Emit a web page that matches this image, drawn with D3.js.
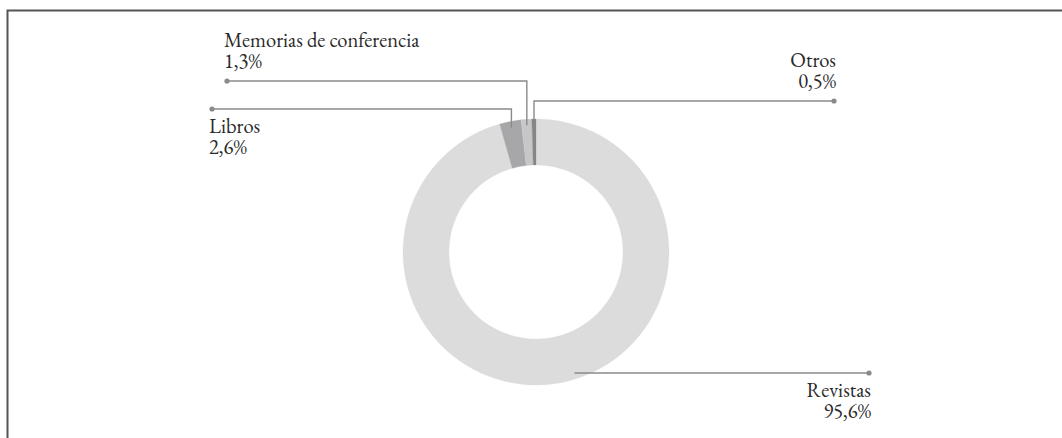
<!DOCTYPE html>
<html>
<head>
<meta charset="utf-8">
<script src="https://cdn.jsdelivr.net/npm/d3@7"></script>
<style>
  html, body { margin: 0; padding: 0; background: #fff; }
  svg { display: block; }
</style>
</head>
<body>
<svg id="chart" width="1062" height="438"></svg>
<script>
// ---- data ----
const categories = ["Revistas", "Libros", "Memorias de conferencia", "Otros"];
const values = [95.6, 2.6, 1.3, 0.5];
const valueLabels = ["95,6%", "2,6%", "1,3%", "0,5%"];
const colors = ["#dcdcdd", "#a7a7a9", "#c7c7c9", "#868688"];

// ---- layout (label placement) ----
const labelLayout = [
  { lineY: 373, dotX: 869, anchor: "end", textX: 871, textY: 397, horizontalOnly: true },
  { lineY: 109, dotX: 212, anchor: "start", textX: 209, textY: 133 },
  { lineY: 81,  dotX: 227, anchor: "start", textX: 224, textY: 47 },
  { lineY: 101, dotX: 834, anchor: "end", textX: 836, textY: 67 }
];

const FONT = "'EB Garamond'";
const FONT_SIZE = 20.5;
const LINE_GAP = 21;

const svg = d3.select("#chart");
const cx = 536, cy = 252, rOuter = 133, rInner = 87;

// frame
svg.append("path")
  .attr("d", "M7.5,438 V10.5 H1062")
  .attr("fill", "none")
  .attr("stroke", "#555")
  .attr("stroke-width", 2);

const pie = d3.pie().sort(null).value(d => d.v).startAngle(0).endAngle(2 * Math.PI);
const data = categories.map((c, i) => ({ c, v: values[i], lbl: valueLabels[i], col: colors[i], lay: labelLayout[i] }));
const arcs = pie(data);
const arc = d3.arc().innerRadius(rInner).outerRadius(rOuter);

const g = svg.append("g").attr("transform", `translate(${cx},${cy})`);

// leader lines (drawn under donut, starting inside the ring)
const lines = svg.append("g");
const rStart = rOuter - 6;
arcs.forEach(a => {
  const L = a.data.lay;
  const mid = (a.startAngle + a.endAngle) / 2;
  let pts;
  if (L.horizontalOnly) {
    const dy = L.lineY - cy;
    const x0 = cx + Math.sqrt(rStart * rStart - dy * dy);
    pts = [[x0, L.lineY], [L.dotX, L.lineY]];
  } else {
    const x = cx + rStart * Math.sin(mid);
    const y = cy - rStart * Math.cos(mid);
    pts = [[x, y], [x, L.lineY], [L.dotX, L.lineY]];
  }
  lines.append("path")
    .attr("d", d3.line()(pts))
    .attr("fill", "none")
    .attr("stroke", "#8a8a8a")
    .attr("stroke-width", 1.4);
  lines.append("circle")
    .attr("cx", L.dotX).attr("cy", L.lineY).attr("r", 2.6)
    .attr("fill", "#8a8a8a");
});

// donut
g.selectAll("path.slice")
  .data(arcs)
  .join("path")
  .attr("class", "slice")
  .attr("d", arc)
  .attr("fill", d => d.data.col)
  .attr("stroke", d => d.data.col)
  .attr("stroke-width", 0.3);

// labels (two separate text lines each)
const labels = svg.append("g")
  .attr("font-family", FONT)
  .attr("font-size", FONT_SIZE)
  .attr("fill", "#2a2a2a");
arcs.forEach(a => {
  const L = a.data.lay;
  labels.append("text")
    .attr("x", L.textX).attr("y", L.textY)
    .attr("text-anchor", L.anchor)
    .text(a.data.c);
  labels.append("text")
    .attr("x", L.textX).attr("y", L.textY + LINE_GAP)
    .attr("text-anchor", L.anchor)
    .text(a.data.lbl);
});
</script>
</body>
</html>
